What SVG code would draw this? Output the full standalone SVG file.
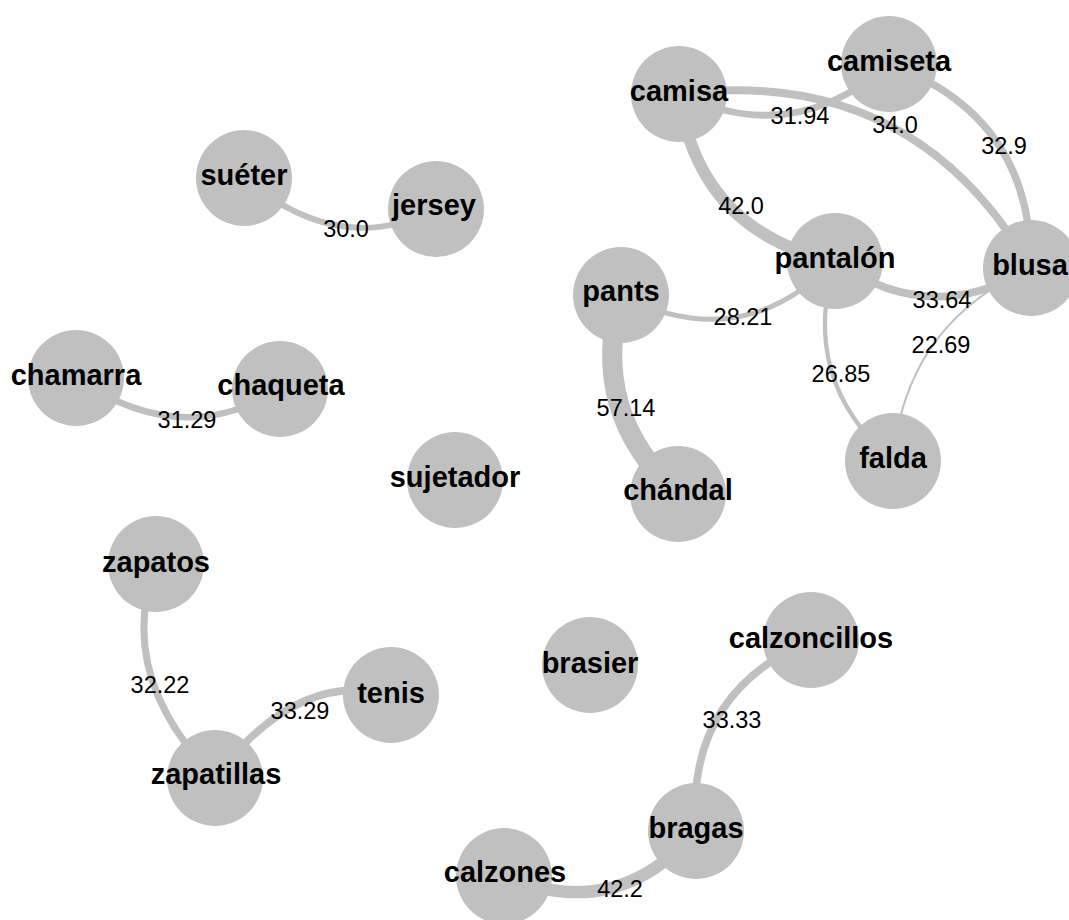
<svg xmlns="http://www.w3.org/2000/svg" width="1069" height="920" viewBox="0 0 1069 920">
<style>
.e{fill:none;stroke:#c0c0c0;stroke-linecap:butt}
.n{fill:#c0c0c0}
.nl{font-family:"Liberation Sans",Arial,sans-serif;font-weight:bold;font-size:29px;fill:#000;text-anchor:middle}
.el{font-family:"Liberation Sans",Arial,sans-serif;font-size:23.5px;fill:#000;text-anchor:middle}
</style>
<rect width="1069" height="920" fill="#fff"/>
<g id="connectors">
<path class="e" stroke-width="5.8" d="M244,178 Q340,258.5 436,209"/>
<path class="e" stroke-width="6.5" d="M76,378 Q182,450.5 280,389"/>
<path class="e" stroke-width="7" d="M156,564 Q114.5,675 215,778"/>
<path class="e" stroke-width="7.5" d="M215,778 Q297,669.5 391,695"/>
<path class="e" stroke-width="7.5" d="M811,640 Q685,694 696,831"/>
<path class="e" stroke-width="12.2" d="M696,831 Q616.4,923.6 504,876"/>
<path class="e" stroke-width="20" d="M621,295 Q588,412 678,494"/>
<path class="e" stroke-width="4.9" d="M621,295 Q740.6,357 835,261"/>
<path class="e" stroke-width="12" d="M679,94 Q698.5,232 835,261"/>
<path class="e" stroke-width="6.8" d="M679,94 Q793.9,148.3 889,64"/>
<path class="e" stroke-width="7.9" d="M679,94 Q912.6,64.5 1031,268"/>
<path class="e" stroke-width="7.3" d="M889,64 Q1032,115.8 1031,268"/>
<path class="e" stroke-width="7.7" d="M835,261 Q930.7,328.5 1031,268"/>
<path class="e" stroke-width="4.2" d="M835,261 Q798.6,380 893,461"/>
<path class="e" stroke-width="2" d="M893,461 Q905,323.8 1031,268"/>
</g>
<g id="camisa"><circle class="n" cx="679" cy="94" r="48"/><text class="nl" x="679" y="101">camisa</text></g>
<g id="camiseta"><circle class="n" cx="889" cy="64" r="48"/><text class="nl" x="889" y="71">camiseta</text></g>
<g id="blusa"><circle class="n" cx="1031" cy="268" r="48"/><text class="nl" x="1030" y="275">blusa</text></g>
<g id="pantalon"><circle class="n" cx="835" cy="261" r="48"/><text class="nl" x="835" y="268">pantalón</text></g>
<g id="pants"><circle class="n" cx="621" cy="295" r="48"/><text class="nl" x="621" y="301">pants</text></g>
<g id="chandal"><circle class="n" cx="678" cy="494" r="48"/><text class="nl" x="678" y="500">chándal</text></g>
<g id="falda"><circle class="n" cx="893" cy="461" r="48"/><text class="nl" x="893" y="468">falda</text></g>
<g id="sueter"><circle class="n" cx="244" cy="178" r="48"/><text class="nl" x="244" y="185">suéter</text></g>
<g id="jersey"><circle class="n" cx="436" cy="209" r="48"/><text class="nl" x="434" y="215">jersey</text></g>
<g id="chamarra"><circle class="n" cx="76" cy="378" r="48"/><text class="nl" x="76" y="385">chamarra</text></g>
<g id="chaqueta"><circle class="n" cx="280" cy="389" r="48"/><text class="nl" x="281" y="395">chaqueta</text></g>
<g id="sujetador"><circle class="n" cx="455" cy="480" r="48"/><text class="nl" x="455" y="487">sujetador</text></g>
<g id="zapatos"><circle class="n" cx="156" cy="564" r="48"/><text class="nl" x="156" y="572">zapatos</text></g>
<g id="tenis"><circle class="n" cx="391" cy="695" r="48"/><text class="nl" x="391" y="703">tenis</text></g>
<g id="zapatillas"><circle class="n" cx="215" cy="778" r="48"/><text class="nl" x="216" y="784">zapatillas</text></g>
<g id="brasier"><circle class="n" cx="590" cy="665" r="48"/><text class="nl" x="590" y="673">brasier</text></g>
<g id="calzoncillos"><circle class="n" cx="811" cy="640" r="48"/><text class="nl" x="811" y="648">calzoncillos</text></g>
<g id="bragas"><circle class="n" cx="696" cy="831" r="48"/><text class="nl" x="696" y="838">bragas</text></g>
<g id="calzones"><circle class="n" cx="504" cy="876" r="48"/><text class="nl" x="505" y="882">calzones</text></g>
<g id="edge-labels">
<text class="el" x="346" y="237">30.0</text>
<text class="el" x="187" y="428">31.29</text>
<text class="el" x="160" y="693">32.22</text>
<text class="el" x="300" y="719">33.29</text>
<text class="el" x="732" y="728">33.33</text>
<text class="el" x="620" y="897">42.2</text>
<text class="el" x="626" y="416">57.14</text>
<text class="el" x="743" y="325">28.21</text>
<text class="el" x="741" y="214">42.0</text>
<text class="el" x="800" y="124">31.94</text>
<text class="el" x="895" y="133">34.0</text>
<text class="el" x="1004" y="154">32.9</text>
<text class="el" x="942" y="308">33.64</text>
<text class="el" x="941" y="353">22.69</text>
<text class="el" x="841" y="382">26.85</text>
</g>
</svg>
